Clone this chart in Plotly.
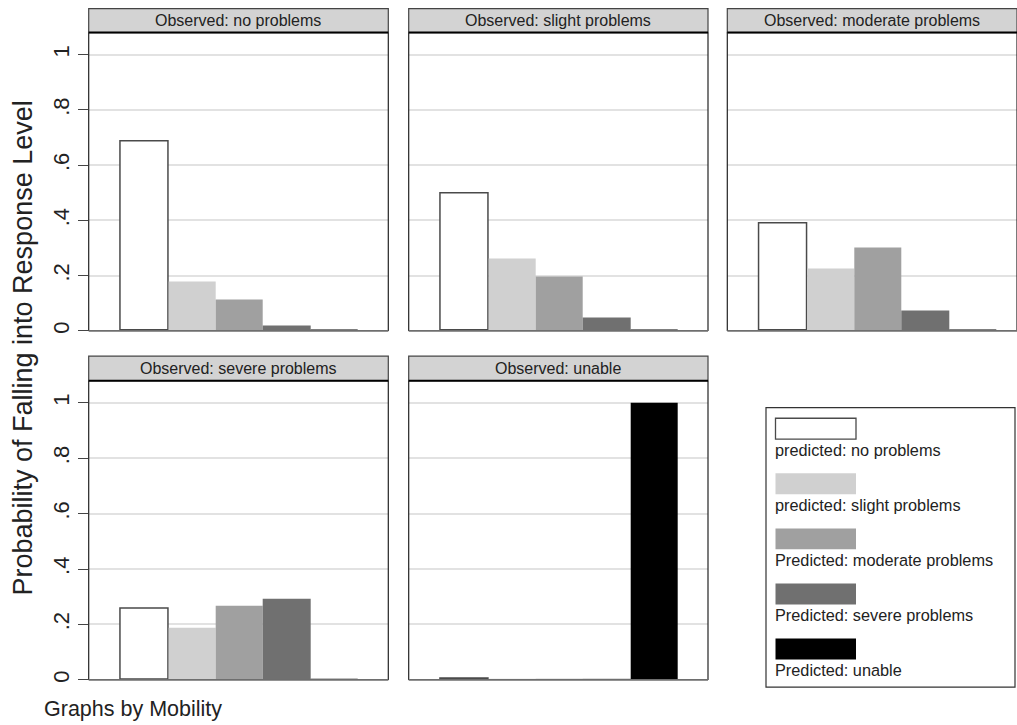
import plotly.graph_objects as go

# Observed mobility level (one panel each)
panels = ["Observed: no problems", "Observed: slight problems",
          "Observed: moderate problems", "Observed: severe problems",
          "Observed: unable"]

# Predicted response levels (bars within each panel)
series = ["predicted: no problems", "predicted: slight problems",
          "Predicted: moderate problems", "Predicted: severe problems",
          "Predicted: unable"]

# Mean predicted probability of each level, per observed panel
pred_no = [0.684, 0.498, 0.39, 0.256, 0.003]
pred_slight = [0.177, 0.261, 0.227, 0.188, 0.001]
pred_moderate = [0.114, 0.196, 0.303, 0.269, 0.001]
pred_severe = [0.020, 0.047, 0.075, 0.294, 0.001]
pred_unable = [0.003, 0.003, 0.003, 0.003, 1.0]

y_ticks = [0, 0.2, 0.4, 0.6, 0.8, 1]
y_ticklabels = ["0", ".2", ".4", ".6", ".8", "1"]

fills = ["#ffffff", "#d0d0d0", "#a0a0a0", "#707070", "#000000"]
outlines = ["#4a4a4a", "#d0d0d0", "#a0a0a0", "#707070", "#000000"]
outline_w = [1.5, 0, 0, 0, 0]

FONT = "Arial, Liberation Sans, sans-serif"
W, H = 1017, 725


def px(x):
    return x / W


def py(y):
    return 1 - y / H


# panel geometry (pixels)
col_x = [(88.7, 388.3), (408.7, 708.0), (727.3, 1017.0)]
row_y = [(32.7, 332.3), (382.3, 682.7)]
header_top = [8.7, 357.7]
slots = [(0, 0), (0, 1), (0, 2), (1, 0), (1, 1)]
unit_px = 47.4

columns = [pred_no, pred_slight, pred_moderate, pred_severe, pred_unable]

fig = go.Figure()
layout = dict(width=W, height=H, margin=dict(l=0, r=0, t=0, b=0),
              paper_bgcolor="white", plot_bgcolor="white",
              showlegend=False, bargap=0,
              font=dict(family=FONT, color="#222"))
shapes, annotations = [], []

for i, (name, (r, c)) in enumerate(zip(panels, slots)):
    k = "" if i == 0 else str(i + 1)
    vals = [col[i] for col in columns]
    fig.add_trace(go.Bar(
        x=[1, 2, 3, 4, 5], y=vals, width=1,
        marker=dict(color=fills, line=dict(color=outlines, width=outline_w)),
        xaxis="x" + k, yaxis="y" + k, name=name, hoverinfo="y"))
    x0, x1 = col_x[c]
    y0, y1 = row_y[r]
    left = -0.18
    right = left + (x1 - x0) / unit_px
    layout["xaxis" + k] = dict(domain=[px(x0), px(x1)], range=[left, right],
                               showticklabels=False, ticks="", showgrid=False,
                               zeroline=False, anchor="y" + k)
    show_lbl = c == 0
    layout["yaxis" + k] = dict(
        domain=[py(y1), py(y0)], range=[0, 1.08], anchor="x" + k,
        tickvals=y_ticks, ticktext=y_ticklabels,
        showticklabels=show_lbl, ticks="outside" if show_lbl else "",
        ticklen=10, tickcolor="#444", tickwidth=1, tickangle=-90,
        tickfont=dict(size=22, family=FONT, color="#222"),
        showgrid=True, gridcolor="#e2e2e2", gridwidth=1.5, zeroline=False)
    # panel frame: sides dark, bottom gray
    shapes.append(dict(type="line", xref="paper", yref="paper",
                       x0=px(x0), x1=px(x0), y0=py(y1), y1=py(y0),
                       line=dict(color="#222", width=1.2)))
    shapes.append(dict(type="line", xref="paper", yref="paper",
                       x0=px(x1), x1=px(x1), y0=py(y1), y1=py(y0),
                       line=dict(color="#222", width=1.2)))
    shapes.append(dict(type="line", xref="paper", yref="paper",
                       x0=px(x0), x1=px(x1), y0=py(y1), y1=py(y1),
                       line=dict(color="#6e6e6e", width=1.6)))
    # header strip
    ht = header_top[r]
    shapes.append(dict(type="rect", xref="paper", yref="paper",
                       x0=px(x0), x1=px(x1), y0=py(y0), y1=py(ht),
                       fillcolor="#d3d3d3", line=dict(color="#444", width=1.2)))
    shapes.append(dict(type="line", xref="paper", yref="paper",
                       x0=px(x0), x1=px(x1), y0=py(y0), y1=py(y0),
                       line=dict(color="#000", width=2)))
    annotations.append(dict(xref="paper", yref="paper",
                            x=px((x0 + min(x1, x0 + 299.5)) / 2),
                            y=py((ht + y0) / 2), text=name, showarrow=False,
                            xanchor="center", yanchor="middle",
                            font=dict(size=16, family=FONT, color="#222")))

# legend box with swatches above labels
lx0, lx1, ly0, ly1 = 766, 1015, 409.3, 690
shapes.append(dict(type="rect", xref="paper", yref="paper",
                   x0=px(lx0), x1=px(lx1), y0=py(ly1), y1=py(ly0),
                   fillcolor="rgba(0,0,0,0)", line=dict(color="#333", width=1.2)))
sw_top = 420.0
step = 55.3
for j, label in enumerate(series):
    t = sw_top + j * step
    shapes.append(dict(type="rect", xref="paper", yref="paper",
                       x0=px(775.5), x1=px(856), y0=py(t + 21), y1=py(t),
                       fillcolor=fills[j],
                       line=dict(color=outlines[j], width=1.3 if j == 0 else 0)))
    annotations.append(dict(xref="paper", yref="paper", x=px(773),
                            y=py(t + 31.5), text=label, showarrow=False,
                            xanchor="left", yanchor="middle",
                            font=dict(size=16.3, family=FONT, color="#222")))

annotations.append(dict(xref="paper", yref="paper", x=px(23), y=py(350),
                        text="Probability of Falling into Response Level",
                        textangle=-90, showarrow=False,
                        xanchor="center", yanchor="middle",
                        font=dict(size=27, family=FONT, color="#222")))
annotations.append(dict(xref="paper", yref="paper", x=px(42), y=py(712),
                        text="Graphs by Mobility", showarrow=False,
                        xanchor="left", yanchor="middle",
                        font=dict(size=21.5, family=FONT, color="#222")))

layout["shapes"] = shapes
layout["annotations"] = annotations
fig.update_layout(**layout)
fig.write_html("out.html")
